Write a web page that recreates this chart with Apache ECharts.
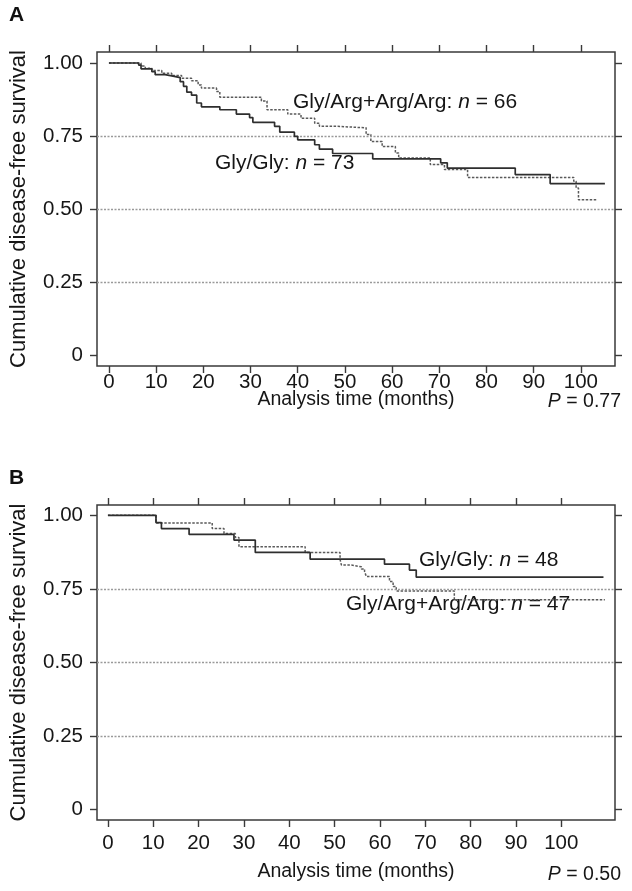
<!DOCTYPE html>
<html>
<head>
<meta charset="utf-8">
<script src="https://cdn.jsdelivr.net/npm/echarts@6/dist/echarts.min.js"></script>
<style>
html,body{margin:0;padding:0;background:#fff;}
#chart{width:632px;height:891px;}
</style>
</head>
<body>
<div id="chart"></div>
<script>
// ---- Data ----
const xTicks = [0, 10, 20, 30, 40, 50, 60, 70, 80, 90, 100];
const yTicks = [0, 0.25, 0.5, 0.75, 1];
const gridLevels = [0.25, 0.5, 0.75];

// Panel A, Gly/Gly (n = 73): event times (months) and survival after each step
const aGlyGlyT = [0, 6.3, 6.8, 9.1, 9.8, 11.9, 13.6, 15.1, 15.8, 16.5, 17.5, 18.6, 19.6, 23.5, 27.0, 29.8, 30.5, 35.1, 36.2, 39.3, 40.0, 43.6, 44.6, 47.4, 55.9, 70.3, 71.7, 86.1, 93.5, 105.1];
const aGlyGlyS = [1.0, 0.993, 0.98, 0.97, 0.96, 0.955, 0.95, 0.936, 0.92, 0.90, 0.89, 0.863, 0.85, 0.84, 0.825, 0.813, 0.797, 0.783, 0.763, 0.749, 0.737, 0.72, 0.705, 0.69, 0.672, 0.658, 0.64, 0.618, 0.587, 0.587];

// Panel A, Gly/Arg+Arg/Arg (n = 66)
const aArgT = [0, 6.8, 7.7, 9.1, 11.2, 13.3, 15.4, 17.5, 18.9, 19.6, 22.8, 23.5, 32.3, 33.5, 37.9, 40.7, 43.6, 44.6, 48.5, 54.5, 55.5, 57.9, 60.7, 61.4, 68.1, 71.1, 76.0, 98.5, 99.0, 99.5, 103.3];
const aArgS = [1.0, 0.99, 0.982, 0.974, 0.965, 0.957, 0.948, 0.939, 0.925, 0.914, 0.902, 0.883, 0.87, 0.84, 0.825, 0.811, 0.794, 0.783, 0.778, 0.755, 0.731, 0.714, 0.692, 0.675, 0.652, 0.635, 0.608, 0.595, 0.572, 0.532, 0.532];

// Panel B, Gly/Gly (n = 48)
const bGlyGlyT = [0, 10.6, 11.8, 17.9, 27.8, 32.5, 44.6, 61.0, 66.5, 68.0, 109.3];
const bGlyGlyS = [1.0, 0.975, 0.955, 0.935, 0.916, 0.874, 0.851, 0.834, 0.814, 0.79, 0.79];

// Panel B, Gly/Arg+Arg/Arg (n = 47)
const bArgT = [0, 10.6, 23.0, 25.6, 28.1, 28.9, 43.5, 51.2, 51.5, 53.7, 55.9, 56.6, 57.0, 62.1, 62.9, 63.6, 76.4, 109.6];
const bArgS = [1.0, 0.974, 0.955, 0.938, 0.925, 0.893, 0.874, 0.85, 0.831, 0.825, 0.818, 0.809, 0.792, 0.775, 0.758, 0.743, 0.713, 0.713];

const labelsA = { top: 'Gly/Arg+Arg/Arg', topN: '66', bottom: 'Gly/Gly', bottomN: '73', p: '0.77' };
const labelsB = { top: 'Gly/Gly', topN: '48', bottom: 'Gly/Arg+Arg/Arg', bottomN: '47', p: '0.50' };

// ---- Chart ----
const FONT = '"Liberation Sans", Arial, Helvetica, sans-serif';
const INK = '#161616';
const FRAME = '#3a3a3a';
const pairs = (t, s) => t.map((v, i) => [v, s[i]]);
const TICK = { show: true, length: 7, lineStyle: { color: FRAME, width: 1.4 } };

function bottomX(gi, min, max, margin, gap) {
  return {
    type: 'value', gridIndex: gi, position: 'bottom', min, max,
    axisLine: { show: false, onZero: false },
    axisTick: Object.assign({ customValues: xTicks }, TICK),
    axisLabel: { customValues: xTicks, fontSize: 20.5, color: INK, fontFamily: FONT, margin },
    splitLine: { show: false },
    name: 'Analysis time (months)', nameLocation: 'middle', nameGap: gap, nameMoveOverlap: false,
    nameTextStyle: { fontSize: 19.5, color: INK, fontFamily: FONT }
  };
}
function topX(gi, min, max) {
  return {
    type: 'value', gridIndex: gi, position: 'top', min, max,
    axisLine: { show: false, onZero: false },
    axisTick: Object.assign({ customValues: xTicks }, TICK),
    axisLabel: { show: false, customValues: xTicks },
    splitLine: { show: false }
  };
}
function leftY(gi, min, max) {
  return {
    type: 'value', gridIndex: gi, position: 'left', min, max,
    axisLine: { show: false, onZero: false },
    axisTick: Object.assign({ customValues: yTicks }, TICK),
    axisLabel: { customValues: yTicks, fontSize: 20.5, color: INK, fontFamily: FONT, margin: 14,
      formatter: v => (v === 0 ? '0' : v.toFixed(2)) },
    splitLine: { show: false },
    name: 'Cumulative disease-free survival', nameLocation: 'middle', nameGap: 67, nameRotate: 90,
    nameMoveOverlap: false,
    nameTextStyle: { fontSize: 22, color: INK, fontFamily: FONT }
  };
}
function rightY(gi, min, max) {
  return {
    type: 'value', gridIndex: gi, position: 'right', min, max,
    axisLine: { show: false, onZero: false },
    axisTick: Object.assign({ customValues: yTicks }, TICK),
    axisLabel: { show: false, customValues: yTicks },
    splitLine: { show: false }
  };
}
function solidSeries(xi, yi, data, withGrid) {
  const s = {
    type: 'line', xAxisIndex: xi, yAxisIndex: yi, data, step: 'end',
    showSymbol: false, symbol: 'none', animation: false, z: 5,
    lineStyle: { color: '#2e2e2e', width: 1.7 }
  };
  if (withGrid) {
    s.markLine = {
      silent: true, symbol: 'none', animation: false, label: { show: false },
      lineStyle: { color: '#9a9a9a', type: [2, 1.5], width: 1.3 },
      data: gridLevels.map(v => ({ yAxis: v }))
    };
  }
  return s;
}
function dashedSeries(xi, yi, data) {
  return {
    type: 'line', xAxisIndex: xi, yAxisIndex: yi, data, step: 'end',
    showSymbol: false, symbol: 'none', animation: false, z: 4,
    lineStyle: { color: '#5a5a5a', width: 1.5, type: [2.5, 1.5] }
  };
}
function annot(x, y, name, n) {
  return {
    type: 'text', left: x, top: y,
    style: {
      text: name + ': {i|n} = ' + n,
      font: '21px ' + FONT, fill: INK,
      rich: { i: { fontStyle: 'italic', fontSize: 21, fontFamily: FONT, fill: INK } }
    }
  };
}
function pText(x, y, p) {
  return {
    type: 'text', right: 632 - x, top: y,
    style: {
      text: '{i|P} = ' + p, font: '19.5px ' + FONT, fill: INK, align: 'right',
      rich: { i: { fontStyle: 'italic', fontSize: 19.5, fontFamily: FONT, fill: INK } }
    }
  };
}

const chart = echarts.init(document.getElementById('chart'), null, { renderer: 'canvas' });
chart.setOption({
  backgroundColor: '#fff',
  animation: false,
  grid: [
    { left: 95, top: 52, width: 520, height: 314, show: true, borderColor: FRAME, borderWidth: 1.5, backgroundColor: 'transparent' },
    { left: 94, top: 505, width: 521, height: 315, show: true, borderColor: FRAME, borderWidth: 1.5, backgroundColor: 'transparent' }
  ],
  xAxis: [
    bottomX(0, -2.53, 107.24, 6, 24), topX(0, -2.53, 107.24),
    bottomX(1, -2.41, 111.84, 13, 42), topX(1, -2.41, 111.84)
  ],
  yAxis: [
    leftY(0, -0.0377, 1.0377), rightY(0, -0.0377, 1.0377),
    leftY(1, -0.035, 1.035), rightY(1, -0.035, 1.035)
  ],
  series: [
    solidSeries(0, 0, pairs(aGlyGlyT, aGlyGlyS), true),
    dashedSeries(0, 0, pairs(aArgT, aArgS)),
    solidSeries(2, 2, pairs(bGlyGlyT, bGlyGlyS), true),
    dashedSeries(2, 2, pairs(bArgT, bArgS))
  ],
  graphic: [
    { type: 'text', left: 9, top: 5, style: { text: 'A', font: 'bold 21px ' + FONT, fill: '#111' } },
    { type: 'text', left: 9, top: 468, style: { text: 'B', font: 'bold 21px ' + FONT, fill: '#111' } },
    annot(293, 92, labelsA.top, labelsA.topN),
    annot(215, 153, labelsA.bottom, labelsA.bottomN),
    annot(419, 550, labelsB.top, labelsB.topN),
    annot(346, 594, labelsB.bottom, labelsB.bottomN),
    pText(621, 392, labelsA.p),
    pText(621, 865, labelsB.p)
  ]
});
</script>
</body>
</html>
